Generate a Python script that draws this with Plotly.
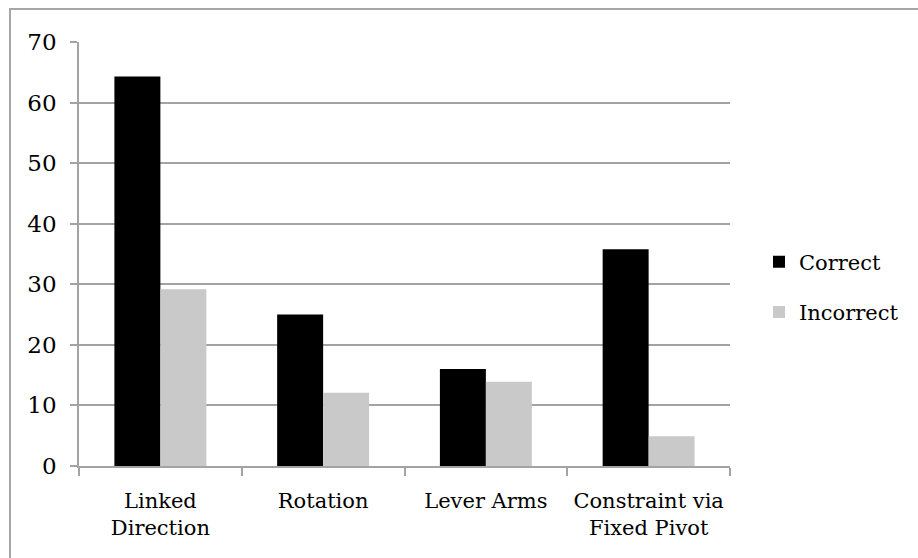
import plotly.graph_objects as go

# Response counts per reasoning category
categories = ["Linked<br>Direction", "Rotation", "Lever Arms", "Constraint via<br>Fixed Pivot"]
correct = [64.3, 25.0, 16.0, 35.8]
incorrect = [29.2, 12.1, 13.9, 4.9]
y_ticks = [0, 10, 20, 30, 40, 50, 60, 70]

FONT = "DejaVu Serif"
GRID = "#a3a3a3"

fig = go.Figure()
fig.add_trace(go.Bar(x=categories, y=correct, name="Correct",
                     marker=dict(color="#000000", line=dict(width=0)),
                     legendgroup="c"))
fig.add_trace(go.Bar(x=categories, y=incorrect, name="Incorrect",
                     marker=dict(color="#c9c9c9", line=dict(width=0)),
                     legendgroup="i"))

# Plot area spans pixels x 79..730, y 42..466
L, R, T, B = 79, 188, 42, 92
W, H = 918, 558
pw, ph = W - L - R, H - T - B

def px_x(p):
    return (p - L) / pw

def px_y(p):
    return (H - B - p) / ph

fig.update_layout(
    width=W, height=H,
    margin=dict(l=L, r=R, t=T, b=B, autoexpand=False),
    paper_bgcolor="white", plot_bgcolor="white",
    font=dict(family=FONT, size=21, color="#000000"),
    barmode="group", bargap=0.435, bargroupgap=0,
    showlegend=True,
    legend=dict(xref="container", yref="container",
                x=759 / W, xanchor="left", y=1 - 287 / H, yanchor="middle",
                tracegroupgap=20, traceorder="grouped",
                font=dict(family=FONT, size=21, color="#000000"),
                bgcolor="rgba(0,0,0,0)"),
    xaxis=dict(showgrid=False, showline=True, linecolor=GRID, linewidth=1.5,
               ticks="outside", tickson="boundaries", ticklen=8,
               tickcolor=GRID, tickwidth=1.5, ticklabelstandoff=15,
               tickangle=0,
               tickfont=dict(family=FONT, size=21, color="#000000")),
    yaxis=dict(range=[0, 70], tickvals=y_ticks, showgrid=True,
               gridcolor=GRID, gridwidth=1.5, zeroline=False,
               showline=True, linecolor=GRID, linewidth=1.5,
               ticks="outside", ticklen=7, tickcolor=GRID, tickwidth=1.5,
               ticklabelstandoff=9,
               tickfont=dict(family=FONT, size=23, color="#000000")),
    shapes=[dict(type="rect", xref="paper", yref="paper",
                 x0=px_x(10), x1=px_x(1000), y0=px_y(700), y1=px_y(9),
                 line=dict(color="#a6a6a6", width=2), layer="below")],
)

fig.write_html("out.html")
